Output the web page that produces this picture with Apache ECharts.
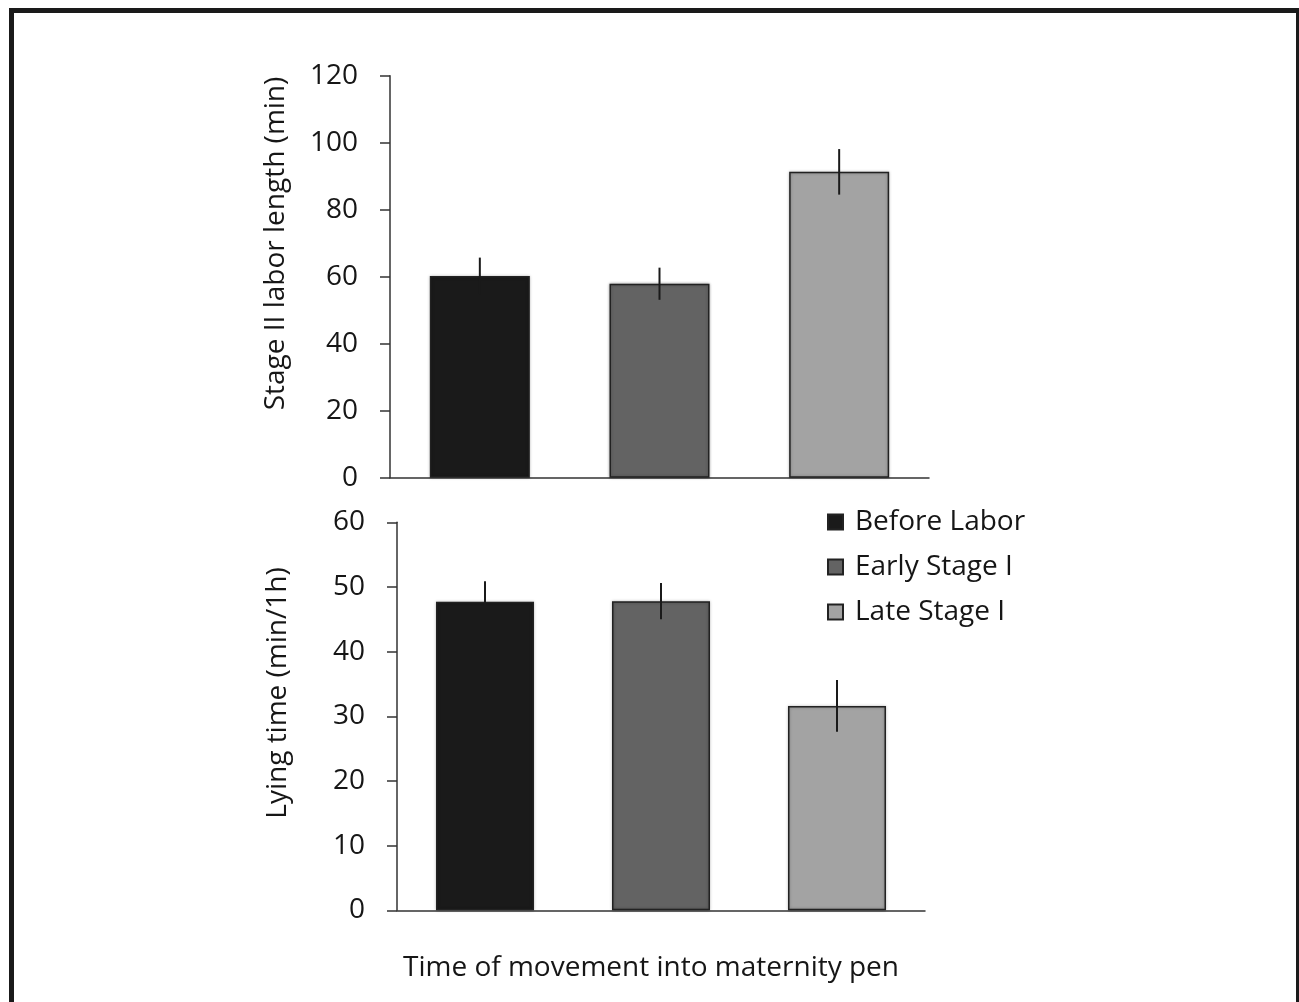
<!DOCTYPE html>
<html>
<head>
<meta charset="utf-8">
<script src="https://cdn.jsdelivr.net/npm/echarts@6/dist/echarts.min.js"></script>
<style>
html,body{margin:0;padding:0;background:#fff;}
#chart{width:1299px;height:1002px;}
</style>
</head>
<body>
<div id="chart"></div>
<script>
const categories = ['Before Labor', 'Early Stage I', 'Late Stage I'];
const laborMean = [60.2, 57.9, 91.3];
const laborErr = [5.5, 4.8, 6.8];
const lyingMean = [47.7, 47.8, 31.6];
const lyingErr = [3.2, 2.8, 4.0];
const topTicks = [0, 20, 40, 60, 80, 100, 120];
const bottomTicks = [0, 10, 20, 30, 40, 50, 60];
const topTitle = 'Stage II labor length (min)';
const bottomTitle = 'Lying time (min/1h)';
const xTitle = 'Time of movement into maternity pen';

const fillColors = ['#1a1a1a', '#636363', '#a3a3a3'];
const FONT = 'Open Sans';
const FS = 28;
const TXT = '#161616';

const chart = echarts.init(document.getElementById('chart'));

function barSeries(means, axisIdx, width) {
  return categories.map((name, i) => ({
    name: name,
    type: 'bar',
    xAxisIndex: axisIdx,
    yAxisIndex: axisIdx,
    barWidth: width,
    barGap: '-100%',
    data: means.map((v, j) => (j === i ? v : '-')),
    itemStyle: {
      color: fillColors[i],
      borderColor: '#222',
      borderWidth: 1.5,
      shadowColor: 'rgba(0,0,0,0.3)',
      shadowBlur: 3
    },
    emphasis: { disabled: true },
    z: 2
  }));
}

function errSeries(means, errs, axisIdx) {
  return {
    type: 'custom',
    xAxisIndex: axisIdx,
    yAxisIndex: axisIdx,
    data: means.map((m, i) => [i, m - errs[i], m + errs[i]]),
    renderItem: function (params, api) {
      const lo = api.coord([api.value(0), api.value(1)]);
      const hi = api.coord([api.value(0), api.value(2)]);
      return {
        type: 'line',
        shape: { x1: lo[0], y1: lo[1], x2: hi[0], y2: hi[1] },
        style: { stroke: '#1a1a1a', lineWidth: 2 }
      };
    },
    z: 5,
    silent: true
  };
}

function yAxis(idx, ticks) {
  return {
    type: 'value',
    gridIndex: idx,
    min: ticks[0],
    max: ticks[ticks.length - 1],
    interval: ticks[1] - ticks[0],
    axisLine: { show: true, lineStyle: { color: '#333', width: 1.5 } },
    axisTick: { show: true, inside: false, length: 10, lineStyle: { color: '#333', width: 1.5 } },
    axisLabel: { margin: 32, fontFamily: FONT, fontSize: FS, color: TXT },
    splitLine: { show: false }
  };
}

function xAxis(idx) {
  return {
    type: 'category',
    gridIndex: idx,
    data: categories,
    axisLine: { show: true, lineStyle: { color: '#333', width: 1.5 } },
    axisTick: { show: false },
    axisLabel: { show: false }
  };
}

function vText(text, x, y) {
  return {
    type: 'text',
    x: x,
    y: y,
    rotation: Math.PI / 2,
    style: {
      text: text,
      font: FS + 'px "Open Sans"',
      fill: TXT,
      textAlign: 'center',
      textVerticalAlign: 'middle'
    },
    silent: true
  };
}

const option = {
  backgroundColor: '#fff',
  animation: false,
  grid: [
    { left: 390, top: 75.7, width: 539, height: 402 },
    { left: 397, top: 522.3, width: 528, height: 388 }
  ],
  xAxis: [xAxis(0), xAxis(1)],
  yAxis: [yAxis(0, topTicks), yAxis(1, bottomTicks)],
  legend: {
    orient: 'vertical',
    left: 827,
    top: 508,
    padding: 0,
    itemWidth: 15,
    itemHeight: 15,
    itemGap: 17,
    icon: 'rect',
    data: categories,
    textStyle: { fontFamily: FONT, fontSize: FS, color: TXT, padding: [0, 0, 0, 7] }
  },
  graphic: [
    {
      type: 'rect',
      shape: { x: 11.5, y: 10.5, width: 1287, height: 1010 },
      style: { fill: 'none', stroke: '#1a1a1a', lineWidth: 5 },
      silent: true
    },
    vText(topTitle, 276, 243.5),
    vText(bottomTitle, 278, 693),
    {
      type: 'text',
      left: 403,
      top: 954,
      style: { text: xTitle, font: FS + 'px "Open Sans"', fill: TXT },
      silent: true
    }
  ],
  series: [
    ...barSeries(laborMean, 0, 100),
    ...barSeries(lyingMean, 1, 98),
    errSeries(laborMean, laborErr, 0),
    errSeries(lyingMean, lyingErr, 1)
  ]
};
chart.setOption(option);
</script>
</body>
</html>
